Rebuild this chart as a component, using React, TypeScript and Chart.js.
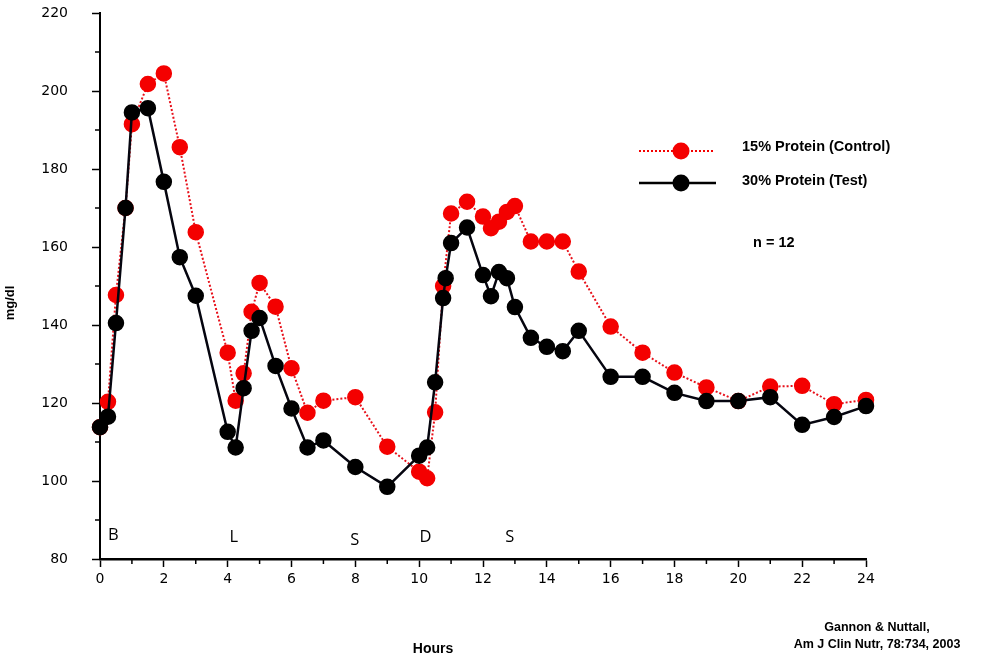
import React, { useEffect, useRef } from 'react';
import { Chart, registerables } from 'chart.js';

Chart.register(...registerables);

// ---- Data (hours after start, glucose mg/dl) ----
const controlHours = [0, 0.25, 0.5, 0.8, 1, 1.5, 2, 2.5, 3, 4, 4.25, 4.5, 4.75, 5, 5.5, 6, 6.5, 7, 8, 9, 10, 10.25, 10.5, 10.75, 11, 11.5, 12, 12.25, 12.5, 12.75, 13, 13.5, 14, 14.5, 15, 16, 17, 18, 19, 20, 21, 22, 23, 24];
const controlValues = [113.8, 120.3, 147.7, 170, 191.5, 201.8, 204.5, 185.6, 163.8, 132.9, 120.6, 127.6, 143.4, 150.8, 144.7, 128.9, 117.5, 120.6, 121.5, 108.8, 102.4, 100.7, 117.6, 150, 168.6, 171.6, 167.8, 164.8, 166.5, 169, 170.5, 161.4, 161.4, 161.4, 153.7, 139.6, 132.9, 127.8, 124.0, 120.5, 124.2, 124.4, 119.7, 120.8];

const testHours = [0, 0.25, 0.5, 0.8, 1, 1.5, 2, 2.5, 3, 4, 4.25, 4.5, 4.75, 5, 5.5, 6, 6.5, 7, 8, 9, 10, 10.25, 10.5, 10.75, 10.83, 11, 11.5, 12, 12.25, 12.5, 12.75, 13, 13.5, 14, 14.5, 15, 16, 17, 18, 19, 20, 21, 22, 23, 24];
const testValues = [113.8, 116.5, 140.5, 170, 194.5, 195.6, 176.7, 157.4, 147.5, 112.6, 108.6, 123.8, 138.5, 141.8, 129.5, 118.6, 108.6, 110.4, 103.6, 98.5, 106.5, 108.6, 125.3, 146.9, 152, 161, 165, 152.8, 147.4, 153.6, 152, 144.6, 136.7, 134.4, 133.3, 138.5, 126.7, 126.7, 122.6, 120.5, 120.5, 121.5, 114.4, 116.4, 119.2];

const xMin = 0;
const xMax = 24;
const xStep = 2;
const xMinorTicks = [1, 3, 5, 7, 9, 11, 13, 15, 17, 19, 21, 23];
const yMin = 80;
const yMax = 220;
const yStep = 20;
const yMinorTicks = [90, 110, 130, 150, 170, 190, 210];

const mealLabels = ['B', 'L', 'S', 'D', 'S'];
const mealHours = [0.42, 4.19, 7.98, 10.2, 12.84];
const mealLevels = [86.2, 85.6, 84.9, 85.6, 85.6];

const controlLabel = '15% Protein (Control)';
const testLabel = '30% Protein (Test)';
const nLabel = 'n = 12';
const xTitle = 'Hours';
const yTitle = 'mg/dl';
const citation = ['Gannon & Nuttall,', 'Am J Clin Nutr, 78:734, 2003'];

const RED = '#f40000';
const BLACK = '#000000';

const decorPlugin = {
  id: 'decor',
  afterDraw(chart: any) {
    const ctx = chart.ctx;
    const area = chart.chartArea;
    const xs = chart.scales.x;
    const ys = chart.scales.y;
    ctx.save();
    // minor ticks
    ctx.strokeStyle = '#000';
    ctx.lineWidth = 1.5;
    yMinorTicks.forEach((v) => {
      const y = ys.getPixelForValue(v);
      ctx.beginPath();
      ctx.moveTo(area.left - 5, y);
      ctx.lineTo(area.left, y);
      ctx.stroke();
    });
    xMinorTicks.forEach((v) => {
      const x = xs.getPixelForValue(v);
      ctx.beginPath();
      ctx.moveTo(x, area.bottom);
      ctx.lineTo(x, area.bottom + 5);
      ctx.stroke();
    });

    // meal letters
    ctx.fillStyle = '#000';
    ctx.font = '16.5px "Open Sans", "DejaVu Sans", sans-serif';
    ctx.textAlign = 'center';
    ctx.textBaseline = 'middle';
    mealLabels.forEach((t, i) => {
      ctx.fillText(t, xs.getPixelForValue(mealHours[i]), ys.getPixelForValue(mealLevels[i]));
    });

    // legend
    const lx0 = 639, lx1 = 714, lcx = 681;
    const ly1 = 151, ly2 = 183;
    ctx.strokeStyle = RED;
    ctx.lineWidth = 2;
    ctx.setLineDash([2, 2]);
    ctx.beginPath();
    ctx.moveTo(lx0, ly1);
    ctx.lineTo(lx1, ly1);
    ctx.stroke();
    ctx.setLineDash([]);
    ctx.fillStyle = RED;
    ctx.beginPath();
    ctx.arc(lcx, ly1, 8.5, 0, Math.PI * 2);
    ctx.fill();
    ctx.strokeStyle = BLACK;
    ctx.lineWidth = 2.5;
    ctx.beginPath();
    ctx.moveTo(lx0, ly2);
    ctx.lineTo(lx1 + 2, ly2);
    ctx.stroke();
    ctx.fillStyle = BLACK;
    ctx.beginPath();
    ctx.arc(lcx, ly2, 8.5, 0, Math.PI * 2);
    ctx.fill();

    ctx.fillStyle = '#000';
    ctx.font = 'bold 14.5px "Liberation Sans", Arial, sans-serif';
    ctx.textAlign = 'left';
    ctx.fillText(controlLabel, 742, 147);
    ctx.fillText(testLabel, 742, 181);
    ctx.fillText(nLabel, 753, 243);

    // axis titles
    ctx.font = 'bold 14px "Liberation Sans", Arial, sans-serif';
    ctx.textAlign = 'center';
    ctx.fillText(xTitle, 433, 649);
    ctx.save();
    ctx.translate(10, 303);
    ctx.rotate(-Math.PI / 2);
    ctx.font = 'bold 13px "Liberation Sans", Arial, sans-serif';
    ctx.fillText(yTitle, 0, 0);
    ctx.restore();

    // citation
    ctx.font = 'bold 12.5px "Liberation Sans", Arial, sans-serif';
    ctx.textAlign = 'center';
    ctx.fillText(citation[0], 877, 628);
    ctx.fillText(citation[1], 877, 645);
    ctx.restore();
  },
};

export default function App() {
  const canvasRef = useRef<HTMLCanvasElement | null>(null);

  useEffect(() => {
    const canvas = canvasRef.current;
    if (!canvas) return;
    const tickFont = { family: '"DejaVu Sans", sans-serif', size: 14 };
    const chart = new Chart(canvas, {
      type: 'line',
      data: {
        datasets: [
          {
            label: testLabel,
            data: testHours.map((h, i) => ({ x: h, y: testValues[i] })),
            borderColor: '#05050f',
            borderWidth: 2.5,
            pointBackgroundColor: BLACK,
            pointBorderColor: BLACK,
            pointRadius: 7.5,
            pointBorderWidth: 1.5,
            tension: 0,
            clip: false,
          } as any,
          {
            label: controlLabel,
            data: controlHours.map((h, i) => ({ x: h, y: controlValues[i] })),
            borderColor: '#e8101a',
            borderWidth: 2,
            borderDash: [2, 2],
            pointBackgroundColor: RED,
            pointBorderColor: RED,
            pointRadius: 7.5,
            pointBorderWidth: 1.5,
            tension: 0,
            clip: false,
          } as any,
        ],
      },
      options: {
        responsive: false,
        animation: false,
        events: [],
        layout: { padding: { top: 13, right: 127, left: 0, bottom: 0 } },
        plugins: { legend: { display: false }, tooltip: { enabled: false } },
        scales: {
          x: {
            type: 'linear',
            min: xMin,
            max: xMax,
            ticks: { stepSize: xStep, color: '#000', font: tickFont, padding: 4, maxRotation: 0, autoSkip: false },
            grid: { drawOnChartArea: false, drawTicks: true, tickLength: 8, tickColor: '#000', tickWidth: 1.5 } as any,
            border: { display: true, color: '#000', width: 2.5 },
            afterFit: (s: any) => { s.height = 103; s.paddingLeft = 0; s.paddingRight = 0; },
          },
          y: {
            type: 'linear',
            min: yMin,
            max: yMax,
            ticks: { stepSize: yStep, color: '#000', font: tickFont, padding: 24 },
            grid: { drawOnChartArea: false, drawTicks: true, tickLength: 8, tickColor: '#000', tickWidth: 1.5 } as any,
            border: { display: true, color: '#000', width: 2 },
            afterFit: (s: any) => { s.width = 100; s.paddingTop = 0; s.paddingBottom = 0; },
          },
        },
      },
      plugins: [decorPlugin],
    });
    return () => chart.destroy();
  }, []);

  return (
    <div style={{ position: 'fixed', left: 0, top: 0, width: 993, height: 662, background: '#fff' }}>
      <canvas ref={canvasRef} width={993} height={662} />
    </div>
  );
}
